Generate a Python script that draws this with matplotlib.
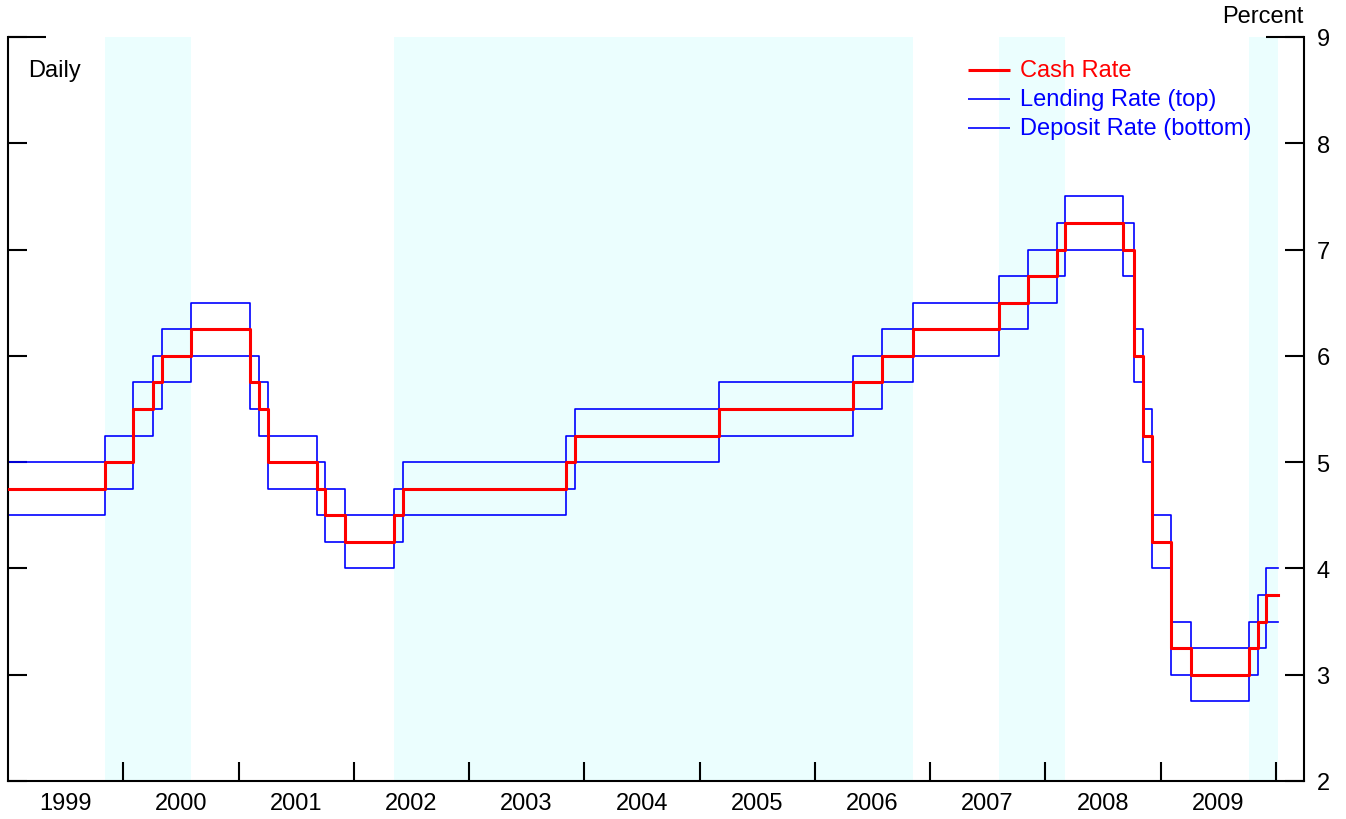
import matplotlib
matplotlib.use("Agg")
import matplotlib.pyplot as plt
import matplotlib.dates as mdates
import numpy as np
from datetime import datetime

plt.rcParams['font.family'] = ['Liberation Sans', 'DejaVu Sans']

# ---- data: policy changes (date the new rate took effect) ----
change_dates = ["1999-01-01", "1999-11-03", "2000-02-02", "2000-04-05", "2000-05-03",
                "2000-08-02", "2001-02-07", "2001-03-07", "2001-04-04", "2001-09-05",
                "2001-10-03", "2001-12-05", "2002-05-08", "2002-06-05", "2003-11-05",
                "2003-12-03", "2005-03-02", "2006-05-03", "2006-08-02", "2006-11-08",
                "2007-08-08", "2007-11-07", "2008-02-06", "2008-03-05", "2008-09-03",
                "2008-10-08", "2008-11-05", "2008-12-03", "2009-02-04", "2009-04-08",
                "2009-10-07", "2009-11-04", "2009-12-02"]
end_date = "2010-01-08"

cash_rate = [4.75, 5.00, 5.50, 5.75, 6.00, 6.25, 5.75, 5.50, 5.00, 4.75,
             4.50, 4.25, 4.50, 4.75, 5.00, 5.25, 5.50, 5.75, 6.00, 6.25,
             6.50, 6.75, 7.00, 7.25, 7.00, 6.00, 5.25, 4.25, 3.25, 3.00,
             3.25, 3.50, 3.75]
lending_rate = [5.00, 5.25, 5.75, 6.00, 6.25, 6.50, 6.00, 5.75, 5.25, 5.00,
                4.75, 4.50, 4.75, 5.00, 5.25, 5.50, 5.75, 6.00, 6.25, 6.50,
                6.75, 7.00, 7.25, 7.50, 7.25, 6.25, 5.50, 4.50, 3.50, 3.25,
                3.50, 3.75, 4.00]
deposit_rate = [4.50, 4.75, 5.25, 5.50, 5.75, 6.00, 5.50, 5.25, 4.75, 4.50,
                4.25, 4.00, 4.25, 4.50, 4.75, 5.00, 5.25, 5.50, 5.75, 6.00,
                6.25, 6.50, 6.75, 7.00, 6.75, 5.75, 5.00, 4.00, 3.00, 2.75,
                3.00, 3.25, 3.50]

# tightening phases (shaded)
shade_start = ["1999-11-03", "2002-05-08", "2007-08-08", "2009-10-07"]
shade_end = ["2000-08-02", "2006-11-08", "2008-03-05", "2010-01-08"]

years = list(range(1999, 2010))

def d(s):
    return datetime.strptime(s, "%Y-%m-%d")

x = [d(s) for s in change_dates] + [d(end_date)]

def ext(v):
    return list(v) + [v[-1]]

fig = plt.figure(figsize=(13.46, 8.2), dpi=100)
ax = fig.add_axes([8/1346, 38/820, (1304-8)/1346, (782-38)/820])

shade_col = '#EBFEFE'
for s, e in zip(shade_start, shade_end):
    ax.axvspan(d(s), d(e), color=shade_col, lw=0, zorder=0)

blue = '#0000FF'
red = '#FF0000'
ax.step(x, ext(lending_rate), where='post', color=blue, lw=1.2, zorder=2)
ax.step(x, ext(deposit_rate), where='post', color=blue, lw=1.2, zorder=2)
ax.step(x, ext(cash_rate), where='post', color=red, lw=2.2, zorder=3)

ax.set_xlim(d("1999-01-01"), d("2010-03-31"))
ax.set_ylim(2, 9)

for sp in ['left', 'right', 'bottom']:
    ax.spines[sp].set_linewidth(1.5)
    ax.spines[sp].set_color('black')
ax.spines['top'].set_visible(False)

ax.set_yticks(range(2, 10))
ax.tick_params(axis='y', which='major', left=True, right=True, labelleft=False,
               labelright=True, direction='in', length=14, width=1.5,
               labelsize=17, pad=9)

ax.set_xticks([datetime(y, 1, 1) for y in range(2000, 2011)])
ax.set_xticks([datetime(y, 7, 2) for y in years], minor=True)
ax.set_xticklabels([], minor=False)
ax.set_xticklabels([str(y) for y in years], minor=True)
ax.tick_params(axis='x', which='major', direction='in', length=14, width=1.5,
               top=False, bottom=True)
ax.tick_params(axis='x', which='minor', length=0, labelsize=17, pad=8)

# longer top ticks at 9
ax.plot([0, 38/1296], [1, 1], transform=ax.transAxes, color='black', lw=1.5,
        clip_on=False, solid_capstyle='butt')
ax.plot([1 - 38/1296, 1], [1, 1], transform=ax.transAxes, color='black', lw=1.5,
        clip_on=False, solid_capstyle='butt')

ax.text((28-8)/1296, (782-71)/744, "Daily", transform=ax.transAxes,
        fontsize=17, ha='left', va='center')
fig.text(1303/1346, 1 - 17/820, "Percent", fontsize=17, ha='right', va='center')

# legend
leg_items = [("Cash Rate", red, 2.2), ("Lending Rate (top)", blue, 1.2),
             ("Deposit Rate (bottom)", blue, 1.2)]
x0 = (968-8)/1296
x1 = (1010-8)/1296
xt = (1020-8)/1296
for i, (lab, col, lw) in enumerate(leg_items):
    yy = (782 - (71 + 29*i))/744
    ax.plot([x0, x1], [yy, yy], transform=ax.transAxes, color=col, lw=lw,
            solid_capstyle='butt')
    ax.text(xt, yy, lab, transform=ax.transAxes, color=col, fontsize=17,
            ha='left', va='center')

fig.savefig("out.png", dpi=100)
